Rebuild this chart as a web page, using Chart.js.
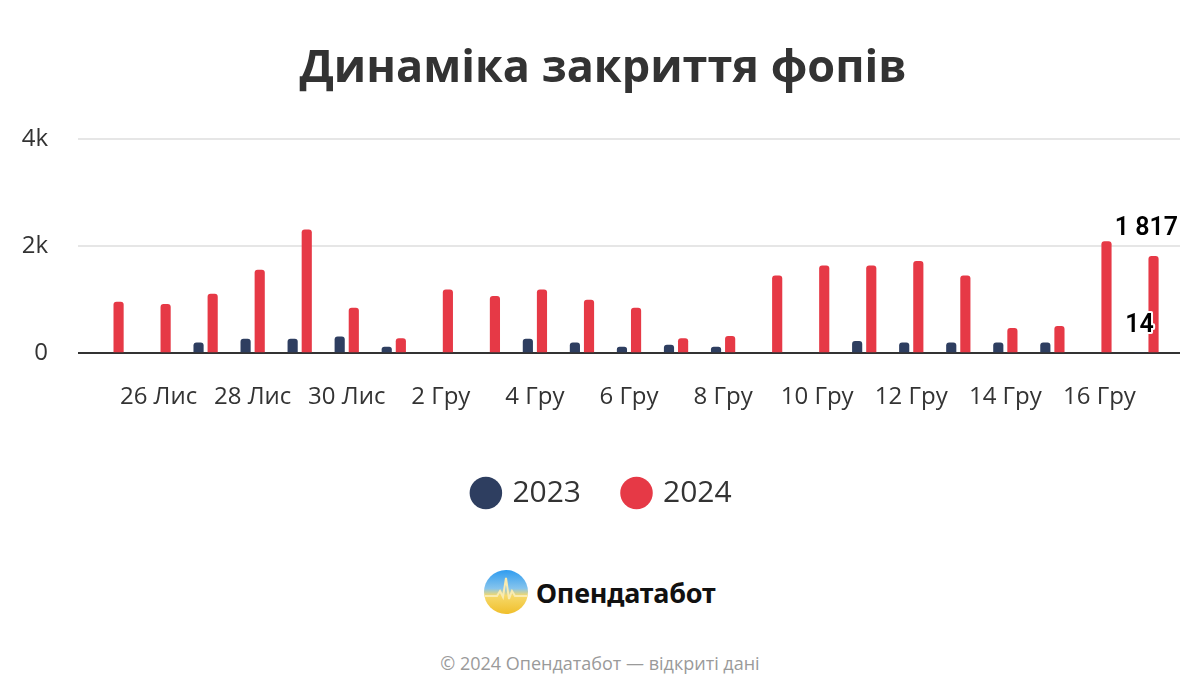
<!DOCTYPE html>
<html>
<head>
<meta charset="utf-8">
<script src="https://cdn.jsdelivr.net/npm/chart.js@4/dist/chart.umd.min.js"></script>
<style>
  body { margin: 0; background: #fff; font-family: "Open Sans", sans-serif; }
  #wrap { position: relative; width: 1200px; height: 700px; }
  #chart-box { position: absolute; left: 0; top: 0; width: 1200px; height: 540px; }
  #logo { position: absolute; left: 483px; top: 569px; display: flex; align-items: center; }
  #logo span { font-family: "Noto Sans", sans-serif; font-weight: 700; font-size: 27px; color: #111; margin-left: 7px; letter-spacing: -0.2px; }
  #footer { position: absolute; left: 0; width: 1200px; top: 651px; text-align: center; color: #9a9a9a; font-size: 18px; }
</style>
</head>
<body>
<div id="wrap">
  <div id="chart-box"><canvas id="fop-chart"></canvas></div>
  <div id="logo">
    <svg width="46" height="46" viewBox="0 0 46 46">
      <defs>
        <linearGradient id="lg" x1="0" y1="0" x2="0" y2="1">
          <stop offset="0" stop-color="#2f9cf0"/>
          <stop offset="0.42" stop-color="#86c4ec"/>
          <stop offset="0.58" stop-color="#f6d96a"/>
          <stop offset="1" stop-color="#f0bf2c"/>
        </linearGradient>
      </defs>
      <circle cx="23" cy="23" r="22" fill="url(#lg)"/>
      <polyline points="2,27 14,27 17,22 20,28 23,9 26,30 29,22 32,27 44,27" fill="none" stroke="#f9ebb0" stroke-width="2"/>
    </svg>
    <span>Опендатабот</span>
  </div>
  <div id="footer">© 2024 Опендатабот — відкриті дані</div>
</div>
<script>
var labels = ["25 Лис", "26 Лис", "27 Лис", "28 Лис", "29 Лис", "30 Лис",
  "1 Гру", "2 Гру", "3 Гру", "4 Гру", "5 Гру", "6 Гру", "7 Гру", "8 Гру",
  "9 Гру", "10 Гру", "11 Гру", "12 Гру", "13 Гру", "14 Гру", "15 Гру",
  "16 Гру", "17 Гру"];

var data_2023 = [null, null, 200, 270, 270, 310, 120, null, null, 270, 200,
  120, 160, 120, null, null, 230, 200, 200, 200, 200, null, 14];

var data_2024 = [960, 920, 1110, 1560, 2310, 850, 280, 1190, 1070, 1190, 1000,
  850, 280, 320, 1450, 1640, 1640, 1720, 1450, 470, 510, 2090, 1817];

var y_ticks = { 0: "0", 2000: "2k", 4000: "4k" };

var navy = "#2e3e60";
var red = "#e63946";

var grid_color = (c) => (c.tick && c.tick.value === 0 ? "#333" : "#e6e6e6");

// last value of every series, drawn above its bar
var last_value_labels = {
  id: "lastValueLabels",
  afterDatasetsDraw(chart) {
    var ctx = chart.ctx;
    var area = chart.chartArea;
    ctx.save();
    ctx.font = "600 25px Roboto";
    ctx.textAlign = "center";
    ctx.textBaseline = "middle";
    chart.data.datasets.forEach((ds, i) => {
      var meta = chart.getDatasetMeta(i);
      var n = ds.data.length - 1;
      var el = meta.data[n];
      if (!el || ds.data[n] == null) return;
      var txt = ds.data[n].toString().replace(/\B(?=(\d{3})+(?!\d))/g, " ");
      var w = ctx.measureText(txt).width;
      var x = Math.min(el.x, area.right + 8 - w / 2);
      var y = el.y - 27;
      ctx.lineWidth = 4;
      ctx.strokeStyle = "#fff";
      ctx.lineJoin = "round";
      ctx.strokeText(txt, x, y);
      ctx.fillStyle = "#000";
      ctx.fillText(txt, x, y);
    });
    ctx.restore();
  },
};

function load_chart() {
  var el = document.getElementById("fop-chart");

  new Chart(el, {
    type: "bar",
    data: {
      labels: labels,
      datasets: [
        { label: "2023", data: data_2023, backgroundColor: navy },
        { label: "2024", data: data_2024, backgroundColor: red },
      ],
    },
    options: {
      responsive: true,
      maintainAspectRatio: false,
      animation: false,
      layout: { padding: { left: 6, right: 0, top: 0, bottom: 22 } },
      datasets: {
        bar: {
          categoryPercentage: 0.6,
          barPercentage: 0.72,
          borderRadius: 3,
          borderSkipped: "bottom",
        },
      },
      plugins: {
        title: {
          display: true,
          text: "Динаміка закриття фопів",
          color: "#333",
          font: { family: "Open Sans", size: 45, weight: "bold" },
          padding: { top: 42, bottom: 43 },
        },
        legend: {
          position: "bottom",
          labels: {
            usePointStyle: true,
            pointStyle: "circle",
            boxWidth: 23,
            boxHeight: 23,
            padding: 44,
            color: "#333",
            font: { family: "Open Sans", size: 30 },
          },
        },
        tooltip: { enabled: false },
      },
      scales: {
        x: {
          grid: { display: false },
          border: { display: false },
          ticks: {
            autoSkip: false,
            maxRotation: 0,
            padding: 22,
            color: "#333",
            font: { family: "Open Sans", size: 24 },
            callback: function (val, idx) {
              return idx % 2 === 1 ? labels[idx] : "";
            },
          },
        },
        y: {
          min: 0,
          max: 4000,
          border: { display: false },
          afterFit: (axis) => { axis.width = 82; },
          grid: { tickLength: 10, lineWidth: 2, color: grid_color },
          ticks: {
            stepSize: 2000,
            padding: 30,
            color: "#333",
            font: { family: "Open Sans", size: 24 },
            callback: (v) => y_ticks[v],
          },
        },
        y_right: {
          position: "right",
          min: 0,
          max: 4000,
          border: { display: false },
          afterFit: (axis) => { axis.width = 30; },
          grid: { drawOnChartArea: false, tickLength: 10, lineWidth: 2, color: grid_color },
          ticks: { stepSize: 2000, display: false },
        },
      },
    },
    plugins: [last_value_labels],
  });
}

load_chart();
</script>
</body>
</html>
